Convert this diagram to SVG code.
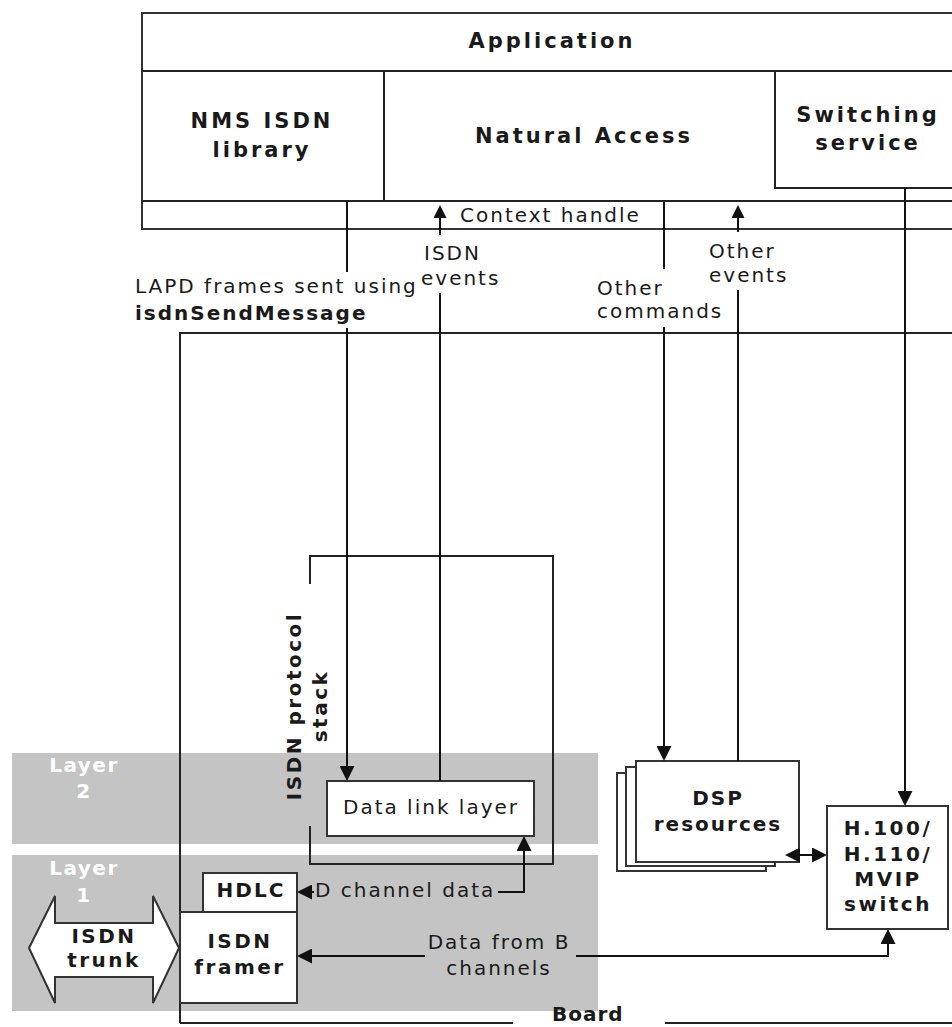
<svg xmlns="http://www.w3.org/2000/svg" width="952" height="1027" viewBox="0 0 952 1027">
<defs>
<style>
.ln{fill:none;stroke:#222;stroke-width:2}
.bx{fill:#fff;stroke:#333;stroke-width:2}
.band{fill:#c4c4c4}
.t{font-family:"DejaVu Sans",Verdana,sans-serif;font-size:20px;letter-spacing:2px;fill:#1a1a1a}
.b{font-family:"DejaVu Sans",Verdana,sans-serif;font-size:20px;font-weight:bold;letter-spacing:2.5px;fill:#1a1a1a}
.h{font-family:"DejaVu Sans",Verdana,sans-serif;font-size:21px;font-weight:bold;letter-spacing:3px;fill:#1a1a1a}
.w{font-family:"DejaVu Sans",Verdana,sans-serif;font-size:20px;font-weight:bold;letter-spacing:1.5px;fill:#fff}
.m{text-anchor:middle}
.c{fill:none;stroke:#111;stroke-width:2}
</style>
<marker id="ah" viewBox="0 0 15 15" refX="0" refY="7.5" markerWidth="15" markerHeight="15" markerUnits="userSpaceOnUse" orient="auto-start-reverse">
<path d="M0,0 L15,7.5 L0,15 z" fill="#111"/>
</marker>
<marker id="as" viewBox="0 0 13 13" refX="0" refY="6.5" markerWidth="13" markerHeight="13" markerUnits="userSpaceOnUse" orient="auto">
<path d="M0,0 L13,6.5 L0,13 z" fill="#111"/>
</marker>
</defs>
<rect width="952" height="1027" fill="#fff"/>

<g id="layer2">
<rect class="band" x="12" y="753" width="586" height="91"/>
<text class="w m" x="84" y="772">Layer</text>
<text class="w m" x="84" y="798">2</text>
</g>
<g id="layer1">
<rect class="band" x="12" y="855" width="586" height="156"/>
<text class="w m" x="84" y="875">Layer</text>
<text class="w m" x="84" y="902">1</text>
</g>

<g id="board">
<path class="ln" d="M180 1023 V333 H953"/>
<path class="ln" d="M180 1023 H513 M665 1023 H953" stroke="#444"/>
<text class="b" x="552" y="1021" style="letter-spacing:1px">Board</text>
</g>

<g id="application">
<rect class="bx" x="142" y="13" width="820" height="216"/>
<path class="ln" d="M142 71 H953 M142 201 H953 M384 71 V201"/>
<text class="h m" x="552" y="48">Application</text>
</g>
<g id="nms-isdn-library">
<text class="h m" x="262" y="128">NMS ISDN</text>
<text class="h m" x="262" y="157">library</text>
</g>
<g id="natural-access">
<text class="h m" x="584" y="143">Natural Access</text>
</g>
<g id="switching-service">
<path class="ln" d="M775 71 V188 H953"/>
<text class="h m" x="868" y="122">Switching</text>
<text class="h m" x="868" y="150">service</text>
</g>
<g id="context-handle">
<text class="t" x="460" y="222">Context handle</text>
</g>

<g id="isdn-protocol-stack">
<path class="ln" d="M310 584 V556 H553 V864 H310 V826"/>
<text class="b m" transform="translate(301,706) rotate(-90)">ISDN protocol</text>
<text class="b m" transform="translate(327,706) rotate(-90)">stack</text>
</g>

<g id="data-link-layer">
<rect class="bx" x="327" y="781" width="207" height="55"/>
<text class="t m" x="431" y="814">Data link layer</text>
</g>

<g id="hdlc">
<rect class="bx" x="203" y="873" width="94" height="39"/>
<text class="b m" x="251" y="897" style="letter-spacing:2px">HDLC</text>
</g>
<g id="isdn-framer">
<rect class="bx" x="180" y="912" width="117" height="91"/>
<text class="b m" x="240" y="948">ISDN</text>
<text class="b m" x="240" y="974">framer</text>
</g>
<g id="isdn-trunk">
<polygon class="bx" points="29,948 55,896 55,923 153,923 153,896 179,948 153,1003 153,977 55,977 55,1003"/>
<text class="b m" x="104" y="943">ISDN</text>
<text class="b m" x="104" y="967">trunk</text>
</g>

<g id="dsp-resources">
<rect class="bx" x="617" y="773" width="149" height="98"/>
<rect class="bx" x="626" y="767" width="149" height="99"/>
<rect class="bx" x="636" y="761" width="163" height="101"/>
<text class="b m" x="718" y="805" style="letter-spacing:2px">DSP</text>
<text class="b m" x="718" y="831" style="letter-spacing:2px">resources</text>
</g>

<g id="switch">
<rect class="bx" x="827" y="806" width="121" height="123"/>
<text class="b m" x="888" y="835">H.100/</text>
<text class="b m" x="888" y="861">H.110/</text>
<text class="b m" x="888" y="886">MVIP</text>
<text class="b m" x="888" y="911">switch</text>
</g>

<g id="connectors">
<path class="c" d="M347 201 V272 M347 328 V766" marker-end="url(#ah)"/>
<path class="c" d="M440 781 V293 M440 235 V218" marker-end="url(#as)"/>
<path class="c" d="M664 201 V269 M664 327 V746" marker-end="url(#ah)"/>
<path class="c" d="M738 761 V290 M738 232 V218" marker-end="url(#as)"/>
<path class="c" d="M905 188 V791" marker-end="url(#ah)"/>
<path class="c" d="M498 892 H524 V851" marker-end="url(#ah)"/>
<path class="c" d="M314 892 H312" marker-end="url(#ah)"/>
<path class="c" d="M576 956 H888 V944" marker-end="url(#ah)"/>
<path class="c" d="M425 956 H312" marker-end="url(#ah)"/>
<path class="c" d="M800 855 H812" marker-start="url(#ah)" marker-end="url(#ah)"/>
<text class="t" x="135" y="293">LAPD frames sent using</text>
<text class="b" x="135" y="320" style="letter-spacing:2px">isdnSendMessage</text>
<text class="t" x="424" y="260">ISDN</text>
<text class="t" x="421" y="285">events</text>
<text class="t" x="597" y="295">Other</text>
<text class="t" x="597" y="318">commands</text>
<text class="t" x="709" y="258">Other</text>
<text class="t" x="709" y="282">events</text>
<text class="t" x="315" y="897">D channel data</text>
<text class="t m" x="499" y="949">Data from B</text>
<text class="t m" x="499" y="975">channels</text>
</g>
</svg>
